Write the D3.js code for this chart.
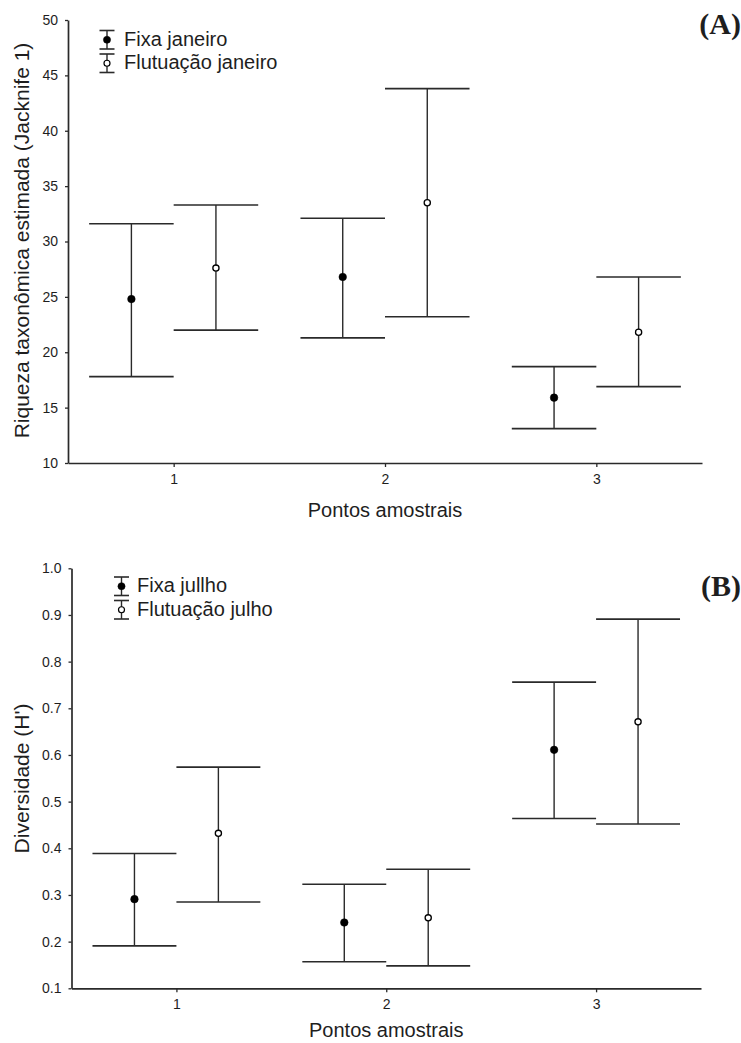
<!DOCTYPE html>
<html><head><meta charset="utf-8">
<script src="https://cdn.jsdelivr.net/npm/d3@7"></script>
<style>
body{margin:0;background:#fff;}
svg{display:block;}
text{font-family:"Liberation Sans",Arial,sans-serif;fill:#1e1e1e;}
</style></head>
<body><svg id="c" width="741" height="1043"></svg>
<script>
// ---- data ----
const categories = [1, 2, 3];
const xTicks = [1, 2, 3];

// Panel A (janeiro) - Jacknife 1
const seriesA = ["Fixa janeiro", "Flutuação janeiro"];
const fixaJanMean = [24.8, 26.8, 15.9];
const fixaJanLow  = [17.8, 21.3, 13.1];
const fixaJanHigh = [31.6, 32.1, 18.7];
const flutJanMean = [27.6, 33.5, 21.8];
const flutJanLow  = [22.0, 23.2, 16.9];
const flutJanHigh = [33.3, 43.8, 26.8];
const yTicksA = [10, 15, 20, 25, 30, 35, 40, 45, 50];

// Panel B (julho) - Diversidade H'
const seriesB = ["Fixa jullho", "Flutuação julho"];
const fixaJulMean = [0.291, 0.241, 0.611];
const fixaJulLow  = [0.191, 0.157, 0.464];
const fixaJulHigh = [0.389, 0.323, 0.756];
const flutJulMean = [0.432, 0.251, 0.671];
const flutJulLow  = [0.285, 0.148, 0.452];
const flutJulHigh = [0.574, 0.355, 0.891];
const yTicksB = [0.1, 0.2, 0.3, 0.4, 0.5, 0.6, 0.7, 0.8, 0.9, 1.0];

const svg = d3.select("#c");
const LINE = "#2a2a2a";

function panel(o) {
  const g = svg.append("g");
  const x = d3.scaleLinear().domain([0.5, 3.5]).range([o.x0, o.x1]);
  const y = d3.scaleLinear().domain(o.yDomain).range([o.y0, o.y1]);
  const off = 0.2, half = 0.2;

  // axes
  const ya = g.append("g").attr("transform", `translate(${o.x0},0)`)
    .call(d3.axisLeft(y).tickValues(o.yTicks).tickFormat(o.fmt).tickSize(3).tickSizeOuter(0).tickPadding(7));
  const xa = g.append("g").attr("transform", `translate(0,${o.y0})`)
    .call(d3.axisBottom(x).tickValues(xTicks).tickFormat(d3.format("d")).tickSize(4).tickSizeOuter(0).tickPadding(7));
  [ya, xa].forEach(a => {
    a.select(".domain").attr("stroke", LINE).attr("stroke-width", 1.7);
    a.selectAll(".tick line").attr("stroke", LINE).attr("stroke-width", 1.3);
    a.selectAll(".tick text").style("font-size", "14px").attr("fill", "#1e1e1e")
      .style("font-family", "'Liberation Sans',Arial,sans-serif");
  });

  // axis titles
  g.append("text").attr("x", (x(0.5) + x(3.5)) / 2).attr("y", o.xTitleY)
    .attr("text-anchor", "middle").style("font-size", "20px").text("Pontos amostrais");
  g.append("text").attr("transform", `translate(${o.yTitleX},${o.yTitleC}) rotate(-90)`)
    .attr("text-anchor", "middle").attr("dy", "0.35em").style("font-size", "21px").text(o.yTitle);

  // panel tag
  g.append("text").attr("x", 741).attr("y", o.tagY).attr("text-anchor", "end")
    .style("font-family", "'Liberation Serif','Times New Roman',serif")
    .style("font-weight", "bold").style("font-size", "30px").attr("fill", "#000").text(o.tag);

  // error bars
  o.series.forEach((s, si) => {
    const dx = si === 0 ? -off : off;
    categories.forEach((c, i) => {
      const cx = x(c + dx);
      g.append("line").attr("x1", cx).attr("x2", cx).attr("y1", y(s.low[i])).attr("y2", y(s.high[i]))
        .attr("stroke", LINE).attr("stroke-width", 1.4);
      [s.low[i], s.high[i]].forEach(v => {
        g.append("line").attr("x1", x(c + dx - half)).attr("x2", x(c + dx + half))
          .attr("y1", y(v)).attr("y2", y(v)).attr("stroke", LINE).attr("stroke-width", 1.6);
      });
      g.append("circle").attr("cx", cx).attr("cy", y(s.mean[i]))
        .attr("r", si === 0 ? 3.8 : 3.1)
        .attr("fill", si === 0 ? "#000" : "#fff").attr("stroke", "#000").attr("stroke-width", si === 0 ? 0.5 : 1.3);
    });
  });

  // legend
  o.legendNames.forEach((name, i) => {
    const lx = o.legX, top = o.legY + i * 23.5, bot = top + 18.5, mid = (top + bot) / 2;
    g.append("line").attr("x1", lx).attr("x2", lx).attr("y1", top).attr("y2", bot).attr("stroke", LINE).attr("stroke-width", 1.4);
    [top, bot].forEach(v => g.append("line").attr("x1", lx - 7.5).attr("x2", lx + 7.5).attr("y1", v).attr("y2", v)
      .attr("stroke", LINE).attr("stroke-width", 1.6));
    g.append("circle").attr("cx", lx).attr("cy", mid).attr("r", i === 0 ? 3.6 : 3)
      .attr("fill", i === 0 ? "#000" : "#fff").attr("stroke", "#000").attr("stroke-width", i === 0 ? 0.5 : 1.2);
    g.append("text").attr("x", o.legTextX).attr("y", top + 15).style("font-size", "20px").text(name);
  });
}

panel({
  x0: 68, x1: 702, y0: 463, y1: 20, yDomain: [10, 50], yTicks: yTicksA, fmt: d3.format("d"),
  xTitleY: 517, yTitleX: 22, yTitleC: 240.5, yTitle: "Riqueza taxonômica estimada (Jacknife 1)",
  tag: "(A)", tagY: 34,
  series: [
    {mean: fixaJanMean, low: fixaJanLow, high: fixaJanHigh},
    {mean: flutJanMean, low: flutJanLow, high: flutJanHigh}
  ],
  legendNames: seriesA, legX: 107, legY: 30.5, legTextX: 124
});

panel({
  x0: 71.5, x1: 701, y0: 988.3, y1: 568.3, yDomain: [0.1, 1.0], yTicks: yTicksB, fmt: d3.format(".1f"),
  xTitleY: 1037, yTitleX: 22, yTitleC: 778.5, yTitle: "Diversidade (H')",
  tag: "(B)", tagY: 596,
  series: [
    {mean: fixaJulMean, low: fixaJulLow, high: fixaJulHigh},
    {mean: flutJulMean, low: flutJulLow, high: flutJulHigh}
  ],
  legendNames: seriesB, legX: 121.5, legY: 577, legTextX: 137
});
</script></body></html>
